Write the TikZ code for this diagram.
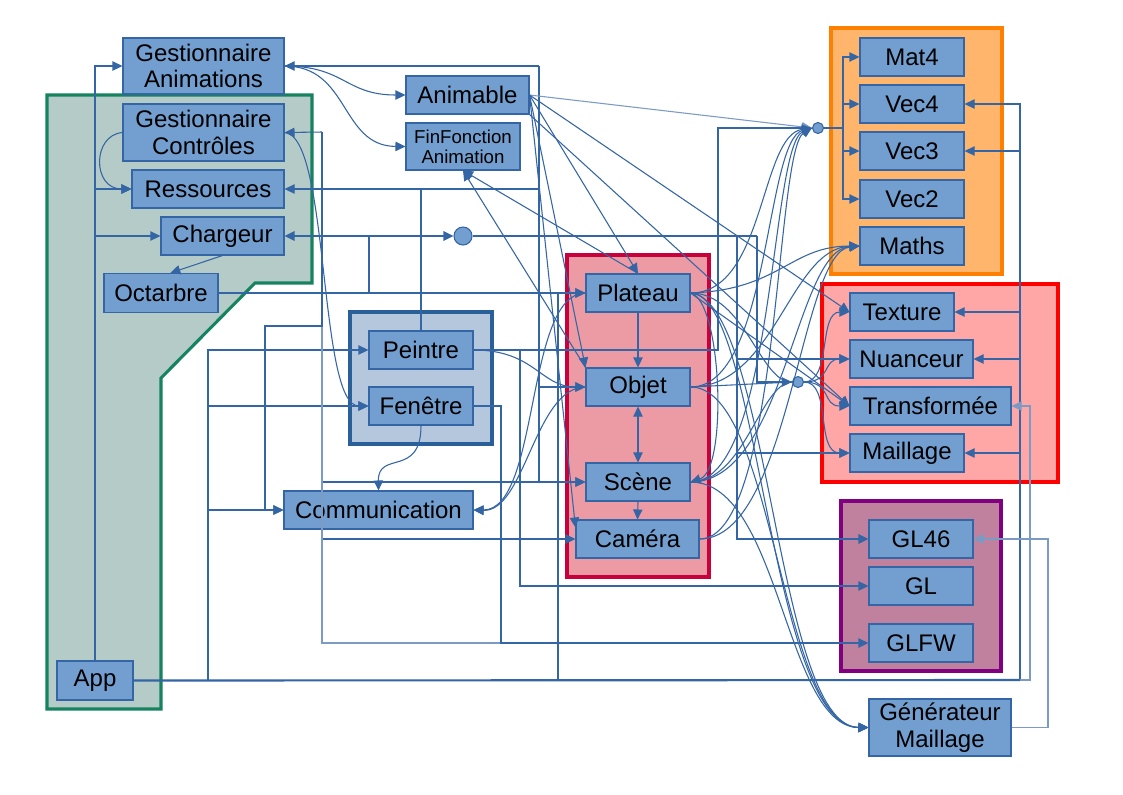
\documentclass[tikz,border=0pt]{standalone}
\usepackage{fontspec}
\setmainfont{Liberation Sans}
\usetikzlibrary{arrows.meta}
\definecolor{nfill}{HTML}{729FCF}
\definecolor{ndraw}{HTML}{3465A4}
\definecolor{lcol}{HTML}{3465A4}
\definecolor{grfill}{HTML}{B5CBC7}
\definecolor{grdraw}{HTML}{168360}
\definecolor{pffill}{HTML}{B4C7DC}
\definecolor{pfdraw}{HTML}{2A6099}
\definecolor{crfill}{HTML}{EC9BA4}
\definecolor{crdraw}{HTML}{C8003C}
\definecolor{orfill}{HTML}{FFB66C}
\definecolor{ordraw}{HTML}{FF8000}
\definecolor{rdfill}{HTML}{FFA6A6}
\definecolor{rddraw}{HTML}{FF0000}
\definecolor{pufill}{HTML}{BF819E}
\definecolor{pudraw}{HTML}{800080}
\tikzset{
  box/.style={draw=ndraw, fill=nfill, line width=0.8pt, inner sep=0pt, align=center,
    font=\fontsize{18}{20}\selectfont},
  smallbox/.style={box, font=\fontsize{14}{15}\selectfont},
  hub/.style={circle, draw=ndraw, fill=nfill, line width=0.8pt, inner sep=0pt},
  grp/.style={line width=2.3pt},
  ln/.style={draw=lcol, line width=0.8pt},
  lnt/.style={draw=lcol, line width=1.6pt},
  lnl/.style={draw=lcol!65, line width=0.8pt},
  >={Triangle[length=7.5pt,width=7pt]},
}
\newcommand\bx[6]{\node[box, minimum width=#4*0.75pt, minimum height=#5*0.75pt] (#1) at (#2,#3) {#6};}
\begin{document}
\begin{tikzpicture}[x=0.75pt,y=-0.75pt]
\fill[white] (0,0) rectangle (1123,794);
\useasboundingbox (0,0) rectangle (1123,794);

% groups
\draw[grp, draw=grdraw, fill=grfill] (47,95) -- (312,95) -- (312,283) -- (255,283) -- (161,378) -- (161,709) -- (47,709) -- cycle;
\draw[grp, draw=pfdraw, fill=pffill] (350,312) rectangle (492,444);
\draw[grp, draw=crdraw, fill=crfill] (567,255) rectangle (709,577);
\draw[grp, draw=ordraw, fill=orfill] (831,28) rectangle (1002,274);
\draw[grp, draw=rddraw, fill=rdfill] (822,284) rectangle (1058,482);
\draw[grp, draw=pudraw, fill=pufill] (841,501) rectangle (1001,671);

% nodes
\bx{GA}{203.5}{66}{161}{56}{Gestionnaire\\Animations}
\bx{GC}{203.5}{132.5}{161}{57}{Gestionnaire\\Contrôles}
\bx{Res}{208}{189}{152}{38}{Ressources}
\bx{Charg}{222.5}{236}{123}{38}{Chargeur}
\bx{Oct}{161}{293}{114}{39}{Octarbre}
\bx{App}{95}{680.5}{76}{39}{App}
\bx{Anim}{467.5}{95}{123}{38}{Animable}
\node[smallbox, minimum width=114*0.75pt, minimum height=47*0.75pt] (FinF) at (463,146.5) {FinFonction\\Animation};
\bx{Plat}{638}{293}{104}{38}{Plateau}
\bx{Obj}{638}{387}{104}{38}{Objet}
\bx{Scn}{638}{482}{104}{38}{Scène}
\bx{Cam}{637.5}{539}{123}{38}{Caméra}
\bx{Peint}{421}{350}{104}{38}{Peintre}
\bx{Fen}{421}{406}{104}{38}{Fenêtre}
\bx{Comm}{378.5}{510}{189}{38}{Communication}
\bx{Mat4}{912}{57}{104}{38}{Mat4}
\bx{Vec4}{912}{104}{104}{38}{Vec4}
\bx{Vec3}{912}{151}{104}{38}{Vec3}
\bx{Vec2}{912}{199}{104}{38}{Vec2}
\bx{Maths}{912}{246}{104}{38}{Maths}
\bx{Tex}{902}{312}{104}{38}{Texture}
\bx{Nuan}{911.5}{359}{123}{38}{Nuanceur}
\bx{Trans}{930.5}{406}{161}{38}{Transformée}
\bx{Mail}{907}{453}{114}{38}{Maillage}
\bx{GL46}{921}{539}{104}{38}{GL46}
\bx{GL}{921}{586}{104}{38}{GL}
\bx{GLFW}{921}{643}{104}{38}{GLFW}
\bx{GenM}{940}{727.5}{142}{57}{Générateur\\Maillage}
\node[hub, minimum size=18*0.75pt] (cj) at (463,236) {};
\node[hub, minimum size=11*0.75pt] (hub1) at (818,128) {};
\node[hub, minimum size=11*0.75pt] (hub2) at (798,382) {};

% bus coordinates
\coordinate (rb) at (1020,680);
\coordinate (rb2) at (1030,680);
\coordinate (b208) at (208,680);
\coordinate (b558) at (558,680);
\coordinate (t539) at (539,66);
\coordinate (t322) at (322,132);
\coordinate (c265) at (265,326);
\coordinate (r737) at (737,236);
\coordinate (r757) at (757,236);
\coordinate (v369) at (369,236);
\coordinate (c718) at (718,128);
\coordinate (c520) at (520,350);
\coordinate (c501) at (501,643);
\coordinate (c843) at (843,128);
\coordinate (c1048) at (1048,539);

% App connectors
\draw[ln,->] (App.north) |- (GA.west);
\draw[ln,->] (App.north) |- (Res.west);
\draw[ln,->] (App.north) |- (Charg.west);
\draw[lnt] (App.east) -- (rb);
\draw[ln,->] (rb) |- (Vec4.east);
\draw[ln,->] (rb) |- (Vec3.east);
\draw[ln,->] (rb) |- (Tex.east);
\draw[ln,->] (rb) |- (Nuan.east);
\draw[ln,->] (rb) |- (Mail.east);
\draw[lnl,->] (rb) -- (rb2) |- (Trans.east);
\draw[ln,->] (b208) |- (Peint.west);
\draw[ln,->] (b208) |- (Fen.west);
\draw[ln,->] (b208) |- (Comm.west);
\draw[ln,->] (b558) |- (Plat.west);

% Gestionnaire Animations bus
\draw[ln,->] (t539) -- (GA.east);
\draw[ln,->] (t539) |- (Res.east);
\draw[ln,->] (t539) |- (Obj.west);
\draw[ln,->] (t539) |- (Scn.west);
\draw[ln] (Peint.north) -- (Peint.north |- Res.east);
\draw[ln,->] (GA.east) .. controls (345,66) and (345,95) .. (Anim.west);
\draw[ln,->] (GA.east) .. controls (350,66) and (340,146) .. (FinF.west);

% Gestionnaire Controles bus
\draw[ln,->] (t322) -- (GC.east);
\draw[ln,->] (t322) |- (Scn.west);
\draw[ln,->] (t322) |- (Cam.west);
\draw[lnl,->] (t322) |- (GLFW.west);
\draw[ln,->] (t322) |- (c265) |- (Comm.west);
\draw[ln,->] (GC.east) .. controls (330,135) and (318,406) .. (Fen.west);
\draw[ln,->] (GC.west) .. controls (92,135) and (92,189) .. (Res.west);

% Chargeur
\draw[lnt,<->] (Charg.east) -- (cj.west);
\draw[lnt] (cj.east) -- (r757);
\draw[ln,->] (r757) |- (hub2.west);
\draw[lnt,->] (r737) |- (GL46.west);
\draw[ln,->] (r737) |- (Nuan.west);
\draw[ln,->] (r737) |- (Mail.west);
\draw[ln] (v369) -- (v369 |- Oct.east);
\draw[ln,->] (Charg.south) -- ([xshift=7pt]Oct.north);
\draw[ln,->] (Oct.east) -- (Plat.west);

% Peintre / Fenetre
\draw[lnt,->] (Peint.east) -| (c718) -- (hub1.west);
\draw[ln,->] (Peint.east) .. controls (535,350) and (540,387) .. (Obj.west);
\draw[ln,->] (c520) |- (GL.west);
\draw[ln,->] (Fen.east) -| (c501) -- (GLFW.west);
\draw[ln,->] (Fen.south) .. controls (421,478) and (378,450) .. (Comm.north);
\draw[ln,->] (Plat.west) .. controls (525,293) and (540,510) .. (Comm.east);
\draw[ln,->] (Obj.west) .. controls (535,387) and (525,512) .. (Comm.east);

% Animable fan
\draw[lnl,->] (Anim.east) -- (hub1.west);
\draw[ln,->] (Anim.east) -- (Plat.north);
\draw[ln,->] (Anim.east) -- (Obj.north west);
\draw[ln,->] (Anim.east) -- ([yshift=-6pt]Cam.north west);
\draw[ln,->] (Anim.east) -- (Tex.west);
\draw[ln,->] (Anim.south east) -- (Trans.west);
\draw[ln,->] (Plat.north) -- (FinF.south);
\draw[ln,->] (Obj.north west) -- (FinF.south);

% Plateau group internal
\draw[ln,->] (Plat.south) -- (Obj.north);
\draw[ln,<->] (Obj.south) -- (Scn.north);
\draw[ln,->] (Scn.south) -- (Cam.north);
\draw[ln,->] (Plat.east) .. controls (722,300) and (728,470) .. (Scn.east);
\draw[ln,->] (Plat.east) -- (Trans.west);

% hub1 / maths
\draw[lnt] (hub1.east) -- (c843);
\draw[ln,->] (c843) |- (Mat4.west);
\draw[ln,->] (c843) |- (Vec4.west);
\draw[ln,->] (c843) |- (Vec3.west);
\draw[ln,->] (c843) |- (Vec2.west);
\draw[ln,->] (Plat.east) .. controls (765,293) and (760,135) .. (hub1.west);
\draw[ln,->] (Obj.east) .. controls (770,387) and (765,140) .. (hub1.west);
\draw[ln,->] (Scn.east) .. controls (775,482) and (770,145) .. (hub1.west);
\draw[ln,->] (Cam.east) .. controls (780,539) and (775,150) .. (hub1.west);
\draw[ln,->] (Plat.east) .. controls (780,290) and (790,246) .. (Maths.west);
\draw[ln,->] (Obj.east) .. controls (775,387) and (790,248) .. (Maths.west);
\draw[ln,->] (Scn.east) .. controls (785,482) and (795,250) .. (Maths.west);
\draw[ln,->] (Cam.east) .. controls (790,539) and (800,252) .. (Maths.west);

% hub2
\draw[ln] (Plat.east) .. controls (745,293) and (760,383) .. (hub2.west);
\draw[ln] (Obj.east) -- (hub2.west);
\draw[ln] (Scn.east) .. controls (745,482) and (760,383) .. (hub2.west);
\draw[ln,->] (hub2.east) .. controls (832,382) and (818,312) .. (Tex.west);
\draw[ln,->] (hub2.east) .. controls (832,382) and (822,359) .. (Nuan.west);
\draw[ln,->] (hub2.east) .. controls (832,382) and (822,406) .. (Trans.west);
\draw[ln,->] (hub2.east) .. controls (832,382) and (815,453) .. (Mail.west);

% Generateur Maillage
\draw[ln,->] (Plat.east) .. controls (760,293) and (768,727) .. (GenM.west);
\draw[ln,->] (Plat.east) .. controls (770,300) and (775,727) .. (GenM.west);
\draw[ln,->] (Obj.east) .. controls (775,387) and (780,727) .. (GenM.west);
\draw[ln,->] (Scn.east) .. controls (780,482) and (785,727) .. (GenM.west);
\draw[lnl,->] (GenM.east) -| (c1048) -- (GL46.east);
\end{tikzpicture}
\end{document}
